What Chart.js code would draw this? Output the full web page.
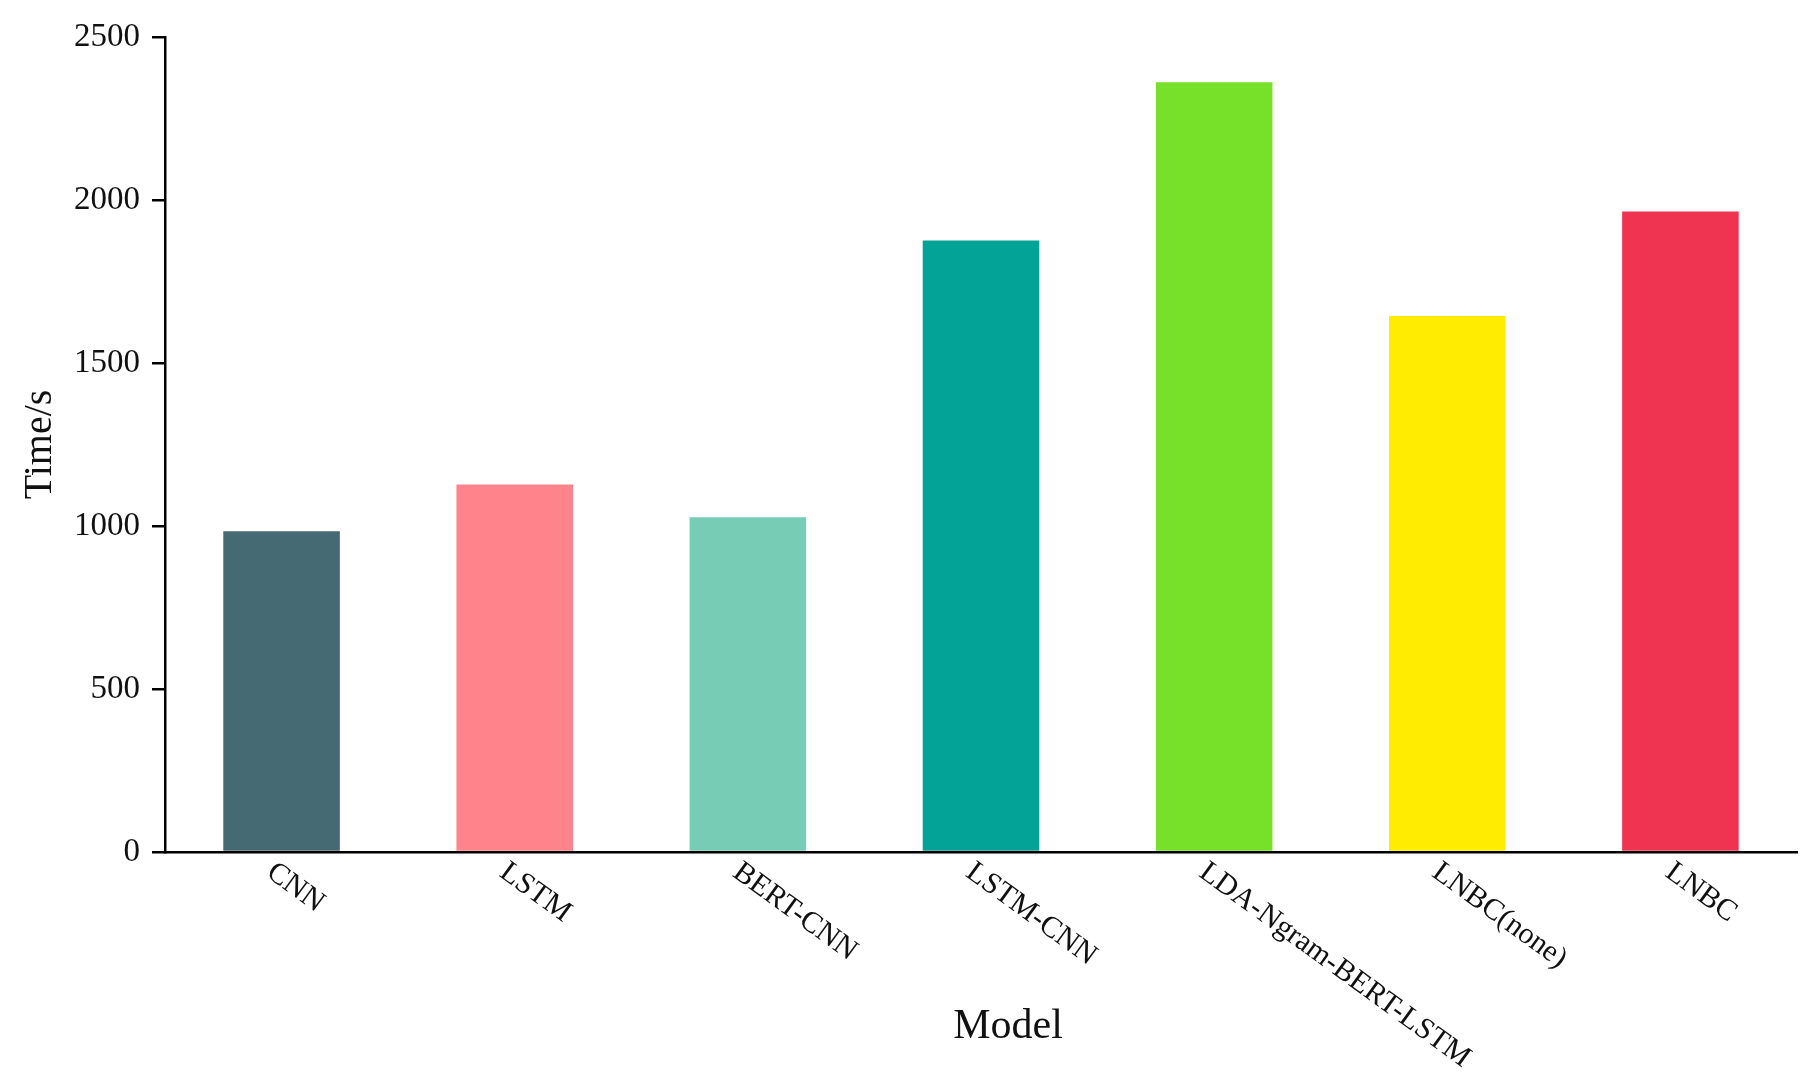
<!DOCTYPE html>
<html>
<head>
<meta charset="utf-8">
<script src="https://cdn.jsdelivr.net/npm/chart.js@4.4.1/dist/chart.umd.min.js"></script>
<style>
  html, body { margin: 0; padding: 0; background: #fff; }
  #wrap { width: 1818px; height: 1082px; }
</style>
</head>
<body>
<div id="wrap"><canvas id="timeChart"></canvas></div>
<script>
const models = ["CNN", "LSTM", "BERT-CNN", "LSTM-CNN", "LDA-Ngram-BERT-LSTM", "LNBC(none)", "LNBC"];
const times = [984, 1127, 1027, 1876, 2361, 1644, 1965];
const barColors = ["#466a73", "#ff838a", "#76ccb4", "#03a398", "#76e128", "#ffec00", "#ef3451"];
const yTicks = [0, 500, 1000, 1500, 2000, 2500];

const serif = "'Liberation Serif', 'Times New Roman', serif";

// x labels are slanted downward from the tick, which chart.js can't do by itself,
// and the axis title sits a bit right of centre in the original
const slantLabels = {
  id: "slantLabels",
  afterDraw(chart) {
    const ctx = chart.ctx;
    const xs = chart.scales.x;
    const area = chart.chartArea;
    const angle = 36 * Math.PI / 180;
    ctx.save();
    ctx.fillStyle = "#111";
    ctx.font = "30px " + serif;
    ctx.textAlign = "left";
    ctx.textBaseline = "top";
    chart.data.labels.forEach((lbl, i) => {
      const x = xs.getPixelForTick(i);
      ctx.save();
      ctx.translate(x - 3, area.bottom + 5);
      ctx.rotate(angle);
      ctx.fillText(lbl, 0, 0);
      ctx.restore();
    });

    ctx.font = "42px " + serif;
    ctx.textAlign = "center";
    ctx.textBaseline = "middle";
    ctx.fillText("Model", (area.left + area.right) / 2 + 27, 1027);
    ctx.restore();
  }
};

const ctx = document.getElementById("timeChart").getContext("2d");
new Chart(ctx, {
  type: "bar",
  data: {
    labels: models,
    datasets: [{
      label: "Time/s",
      data: times,
      backgroundColor: barColors,
      borderWidth: 0,
      categoryPercentage: 1.0,
      barPercentage: 0.5
    }]
  },
  options: {
    responsive: true,
    maintainAspectRatio: false,
    animation: false,
    layout: { padding: { top: 37, right: 21, left: 0, bottom: 0 } },
    plugins: {
      legend: { display: false },
      tooltip: { enabled: false }
    },
    scales: {
      x: {
        grid: { display: false, drawTicks: false },
        border: { display: true, color: "#000", width: 2.5 },
        ticks: { display: false },
        afterFit(scale) { scale.height = 230; }
      },
      y: {
        min: 0,
        max: 2500,
        afterBuildTicks(scale) { scale.ticks = yTicks.map(v => ({ value: v })); },
        grid: { drawOnChartArea: false, color: "#000", lineWidth: 2.5, tickLength: 13 },
        border: { display: true, color: "#000", width: 2.5 },
        ticks: {
          color: "#111",
          font: { family: serif, size: 33 },
          padding: 12,
          callback: v => String(v)
        },
        title: {
          display: true,
          text: "Time/s",
          color: "#111",
          font: { family: serif, size: 40 },
          padding: { top: 16, bottom: 0 }
        },
        afterFit(scale) { scale.width = 165; }
      }
    }
  },
  plugins: [slantLabels]
});
</script>
</body>
</html>
